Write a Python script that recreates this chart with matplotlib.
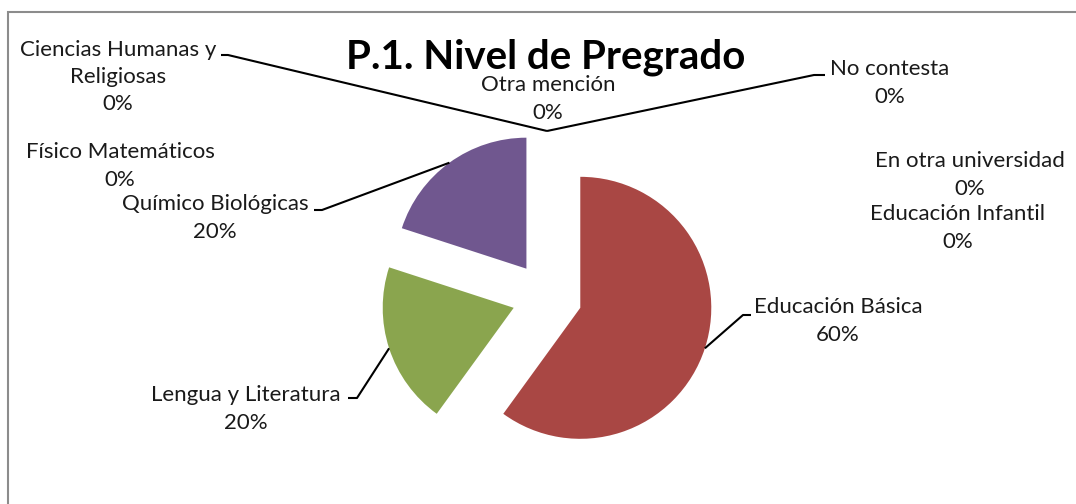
import matplotlib as mpl
mpl.use('Agg')
import matplotlib.pyplot as plt
import numpy as np
from matplotlib.patches import Rectangle

plt.rcParams['font.family'] = ['Lato', 'DejaVu Sans']

categorias = ['Educación Infantil', 'Educación Básica', 'Lengua y Literatura',
              'Químico Biológicas', 'Físico Matemáticos',
              'Ciencias Humanas y\nReligiosas', 'Otra mención', 'No contesta',
              'En otra universidad']
porcentajes = [0, 60, 20, 20, 0, 0, 0, 0, 0]
colores = ['#4F81BD', '#A94744', '#8AA54E', '#70578F', '#4BACC6',
           '#F79646', '#2C4D75', '#772C2A', '#5F7530']

# label placement (pixel coords, image y downwards): text centre, elbow points
etiquetas = {
    'Educación Infantil':  dict(xy=(958, 228), elbow=None),
    'Educación Básica':    dict(xy=(838, 321), elbow=[(743, 315), (751, 315)]),
    'Lengua y Literatura': dict(xy=(246, 409), elbow=[(357, 398), (348, 398)]),
    'Químico Biológicas':  dict(xy=(215, 218), elbow=[(322, 210), (314, 210)]),
    'Físico Matemáticos':  dict(xy=(120, 166), elbow=None),
    'Ciencias Humanas y\nReligiosas': dict(xy=(118, 77), elbow=[(228, 55), (221, 55)]),
    'Otra mención':        dict(xy=(548, 99), elbow=None),
    'No contesta':         dict(xy=(890, 83), elbow=[(814, 75), (825, 75)]),
    'En otra universidad': dict(xy=(970, 175), elbow=None),
}

W, H = 1076, 504
fig = plt.figure(figsize=(W / 100, H / 100), dpi=100)
ax = fig.add_axes([0, 0, 1, 1])

radio = 131
centro = (547, H - 297)
expl = 35  # absolute offset in data units
wedges, _ = ax.pie(porcentajes, colors=colores, startangle=90, counterclock=False,
                   radius=radio, center=centro, explode=[expl] * len(porcentajes),
                   wedgeprops=dict(linewidth=0), frame=True)
ax.set_xlim(0, W)
ax.set_ylim(0, H)
ax.set_aspect('auto')
ax.axis('off')

for w, cat, p in zip(wedges, categorias, porcentajes):
    info = etiquetas[cat]
    tx, ty = info['xy']
    ax.text(tx, H - ty, f'{cat}\n{p}%', ha='center', va='center', fontsize=16,
            color='#1a1a1a', linespacing=1.45)
    if info['elbow'] is not None:
        ang = np.deg2rad((w.theta1 + w.theta2) / 2)
        cx, cy = w.center
        sx, sy = cx + w.r * np.cos(ang), cy + w.r * np.sin(ang)
        xs = [sx] + [e[0] for e in info['elbow']]
        ys = [sy] + [H - e[1] for e in info['elbow']]
        ax.plot(xs, ys, color='black', lw=1.5, solid_capstyle='butt')

ax.text(546, H - 57, 'P.1. Nivel de Pregrado', ha='center', va='center',
        fontsize=29, fontweight='bold', color='black')

ax.add_patch(Rectangle((8, -20), W + 20, H - 12 + 20, fill=False,
                       edgecolor='#8c8c8c', lw=1.5, clip_on=False))

fig.savefig('out.png', dpi=100)
